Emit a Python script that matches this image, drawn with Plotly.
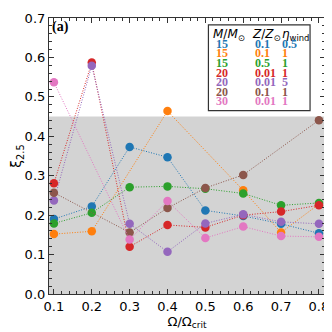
import plotly.graph_objects as go

# rotation rates (Omega / Omega_crit)
omega = [0.1, 0.2, 0.3, 0.4, 0.5, 0.6, 0.7, 0.8]

# compactness xi_2.5 for each model; None = no model at that rotation
xi_m15_z01_w05 = [0.190, 0.222, 0.373, 0.347, 0.212, 0.198, 0.178, 0.154]
xi_m15_z01_w1 = [0.152, 0.159, None, 0.464, None, 0.263, 0.156, 0.228]
xi_m15_z05_w1 = [0.179, 0.206, 0.271, 0.273, 0.267, 0.255, 0.225, 0.231]
xi_m20_z001_w1 = [0.281, 0.587, 0.120, 0.175, 0.169, 0.200, 0.209, 0.225]
xi_m20_z001_w5 = [0.237, 0.579, 0.178, 0.107, 0.179, 0.202, 0.183, 0.178]
xi_m20_z01_w1 = [0.257, None, 0.156, 0.218, 0.269, 0.302, None, 0.441]
xi_m30_z001_w1 = [0.537, None, 0.138, 0.236, 0.142, 0.171, 0.147, 0.145]

masses = ['15', '15', '15', '20', '20', '20', '30']
metallicities = ['0.1', '0.1', '0.5', '0.01', '0.01', '0.1', '0.01']
etas = ['0.5', '1', '1', '1', '5', '1', '1']

series = [xi_m15_z01_w05, xi_m15_z01_w1, xi_m15_z05_w1, xi_m20_z001_w1,
          xi_m20_z001_w5, xi_m20_z01_w1, xi_m30_z001_w1]
colors = ['#1f77b4', '#ff7f0e', '#2ca02c', '#d62728', '#9467bd', '#8c564b', '#e377c2']

fig = go.Figure()

# grey band below 0.45
fig.add_shape(type='rect', xref='paper', yref='y', x0=0, x1=1, y0=0, y1=0.45,
              fillcolor='#d3d3d3', line=dict(width=0), layer='below')

for ys, c in zip(series, colors):
    fig.add_trace(go.Scatter(
        x=omega, y=ys, mode='lines+markers', connectgaps=True,
        line=dict(color=c, width=1, dash='1px,1.6px'),
        marker=dict(color=c, size=8.5, line=dict(width=0)),
        showlegend=False))

# the page body adds an 8px offset, so the figure is a bit smaller than the window
OFF = 8
W = H = 332 - OFF
# plot area in page pixels
L, R, T, B = 48, 325, OFF + 3, 294
def px(x):
    return (x - L) / (R - L)
def py(y):
    return (B - y) / (B - T)

# legend box
fig.add_shape(type='rect', xref='paper', yref='paper',
              x0=px(208), x1=px(310), y0=py(106), y1=py(18),
              fillcolor='white', line=dict(color='#333333', width=1.2))

hdr_font = dict(family='DejaVu Sans', size=12, color='black')
fig.add_annotation(text='<i>M</i>/<i>M</i><sub>⊙</sub>', x=px(211), y=py(28), xref='paper', yref='paper',
                   xanchor='left', yanchor='middle', showarrow=False, font=hdr_font)
fig.add_annotation(text='<i>Z</i>/<i>Z</i><sub>⊙</sub>', x=px(250), y=py(28), xref='paper', yref='paper',
                   xanchor='left', yanchor='middle', showarrow=False, font=hdr_font)
fig.add_annotation(text='<i>η</i><sub>wind</sub>', x=px(280), y=py(28), xref='paper', yref='paper',
                   xanchor='left', yanchor='middle', showarrow=False, font=hdr_font)

row_y = [37.5, 47.3, 57.1, 66.9, 76.7, 86.5, 96.5]
for m, z, e, c, yy in zip(masses, metallicities, etas, colors, row_y):
    f = dict(family='Liberation Serif', size=12, color=c)
    fig.add_annotation(text='<b>%s</b>' % m, x=px(222), y=py(yy), xref='paper', yref='paper',
                       xanchor='center', yanchor='middle', showarrow=False, font=f, height=10)
    fig.add_annotation(text='<b>%s</b>' % z, x=px(253), y=py(yy), xref='paper', yref='paper',
                       xanchor='left', yanchor='middle', showarrow=False, font=f, height=10)
    fig.add_annotation(text='<b>%s</b>' % e, x=px(280), y=py(yy), xref='paper', yref='paper',
                       xanchor='left', yanchor='middle', showarrow=False, font=f, height=10)

# panel label
fig.add_annotation(text='<b>(a)</b>', x=px(49), y=py(20), xref='paper', yref='paper',
                   xanchor='left', yanchor='middle', showarrow=False,
                   font=dict(family='Liberation Serif', size=14, color='black'))

axis_common = dict(
    showgrid=False, zeroline=False, showline=True, linecolor='#333333', linewidth=1.2,
    mirror='allticks', ticks='inside', ticklen=5, tickwidth=1, tickcolor='#333333',
    tickfont=dict(family='DejaVu Sans', size=13, color='black'),
    ticklabeloverflow='allow',
    minor=dict(ticks='inside', ticklen=2.5, tickwidth=1, tickcolor='#333333', dtick=0.02),
)

fig.update_xaxes(range=[0.087, 0.816], dtick=0.1, tick0=0.1, tickformat='.1f',
                 title=dict(text='Ω/Ω<sub>crit</sub>', standoff=2,
                            font=dict(family='DejaVu Sans', size=13, color='black')),
                 **axis_common)
fig.update_yaxes(range=[0, 0.7001], dtick=0.1, tick0=0, tickformat='.1f',
                 title=dict(text='ξ<sub>2.5</sub>', standoff=4,
                            font=dict(family='DejaVu Sans', size=14, color='black')),
                 **axis_common)

fig.update_layout(
    width=W, height=H,
    margin=dict(l=L - OFF, r=W - (R - OFF), t=T - OFF, b=H - (B - OFF)),
    plot_bgcolor='white', paper_bgcolor='white',
)

fig.write_html('out.html')
